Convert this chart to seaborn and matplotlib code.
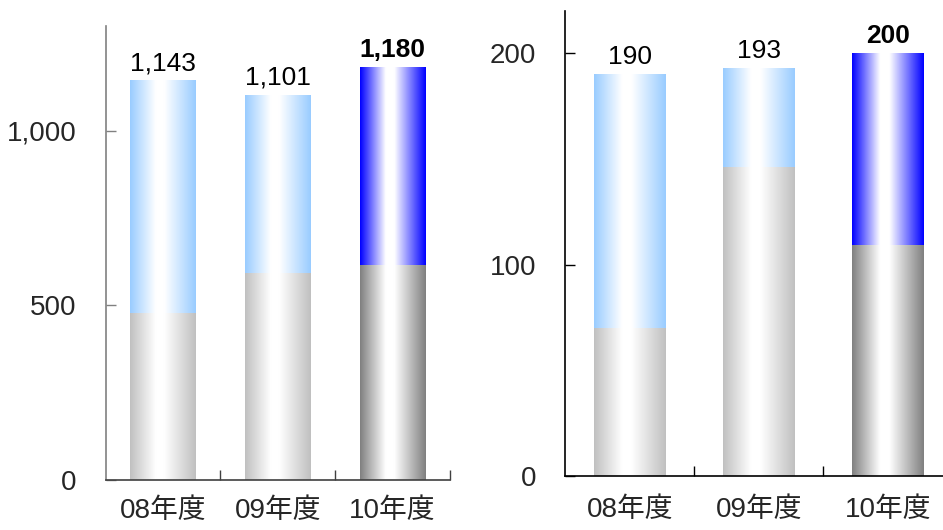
import numpy as np
import pandas as pd
import matplotlib
matplotlib.use("Agg")
import matplotlib.pyplot as plt
from matplotlib.colors import to_rgb
import seaborn as sns

sns.set_style("white")
plt.rcParams['font.family'] = ['Liberation Sans', 'Noto Sans CJK JP', 'DejaVu Sans']

categories = ["08年度", "09年度", "10年度"]
left_totals = [1143, 1101, 1180]
left_bottoms = [477, 591, 614]
right_totals = [190, 193, 200]
right_bottoms = [70, 146, 109]
left_yticks = [0, 500, 1000]
left_ticklabels = ["0", "500", "1,000"]
right_yticks = [0, 100, 200]
right_ticklabels = ["0", "100", "200"]

top_colors = ["#99CCFF", "#99CCFF", "#0000FF"]
bottom_colors = ["#C0C0C0", "#C0C0C0", "#808080"]


def grad_image(color, n=200):
    c = np.array(to_rgb(color))
    w = np.ones(3)
    t = np.linspace(0, 1, n)
    peak = 0.45
    f = np.where(t < peak, t / peak, (1 - t) / (1 - peak))
    f = np.clip(f * 1.15, 0, 1)
    img = c[None, :] * (1 - f[:, None]) + w[None, :] * f[:, None]
    return img[None, :, :]


def panel(ax, totals, bottoms, ymax, yticks, yticklabels, width, spine_left, spine_bottom, xpad):
    df_t = pd.DataFrame({"cat": categories, "val": totals})
    df_b = pd.DataFrame({"cat": categories, "val": bottoms})
    sns.barplot(data=df_t, x="cat", y="val", hue="cat", palette=top_colors,
                legend=False, width=width, ax=ax, saturation=1)
    sns.barplot(data=df_b, x="cat", y="val", hue="cat", palette=bottom_colors,
                legend=False, width=width, ax=ax, saturation=1)
    patches = list(ax.patches)
    cols = top_colors + bottom_colors
    for k, (p, col) in enumerate(zip(patches, cols)):
        x0 = p.get_x(); w = p.get_width(); y0 = p.get_y(); h = p.get_height()
        ax.imshow(grad_image(col), extent=[x0, x0 + w, y0, y0 + h],
                  aspect='auto', zorder=p.get_zorder() + 0.1 + (0.5 if k >= 3 else 0),
                  interpolation='bilinear')
    for i, p in enumerate(patches[:3]):
        x = p.get_x() + p.get_width() / 2
        y = p.get_y() + p.get_height()
        label = f"{totals[i]:,}"
        ax.annotate(label, (x, y), xytext=(0, 4), textcoords='offset points',
                    ha='center', va='bottom', fontsize=19,
                    fontweight='bold' if i == 2 else 'normal', color='black',
                    zorder=10)
    ax.set_xlim(-0.5, 2.5)
    ax.set_ylim(0, ymax)
    ax.set_yticks(yticks)
    ax.set_yticklabels(yticklabels)
    ax.set_xlabel("")
    ax.set_ylabel("")
    ax.set_xticks([0, 1, 2])
    ax.set_xticklabels(categories)
    ax.set_xticks([0.5, 1.5, 2.5], minor=True)
    ax.tick_params(axis='x', which='major', bottom=True, length=0, pad=xpad, labelsize=20)
    ax.tick_params(axis='x', which='minor', bottom=True, direction='in', length=7, width=1, color=spine_bottom)
    ax.tick_params(axis='y', which='major', left=True, direction='in', length=7, width=1,
                   color=spine_left, pad=21, labelsize=20)
    for s in ['top', 'right']:
        ax.spines[s].set_visible(False)
    ax.spines['left'].set_color(spine_left)
    ax.spines['bottom'].set_color(spine_bottom)
    ax.spines['left'].set_linewidth(1.2)
    ax.spines['bottom'].set_linewidth(1.2)
    ax.grid(False)


fig = plt.figure(figsize=(9.43, 5.30), dpi=100)
ax1 = fig.add_axes([0.1119, 0.0943, 0.3653, 0.8566])
ax2 = fig.add_axes([0.5995, 0.1019, 0.4104, 0.8773])
panel(ax1, left_totals, left_bottoms, 1300, left_yticks, left_ticklabels, 0.57, "#808080", "#404040", 13)
panel(ax2, right_totals, right_bottoms, 220, right_yticks, right_ticklabels, 0.555, "#000000", "#000000", 15)
fig.savefig("out.png", dpi=100)
